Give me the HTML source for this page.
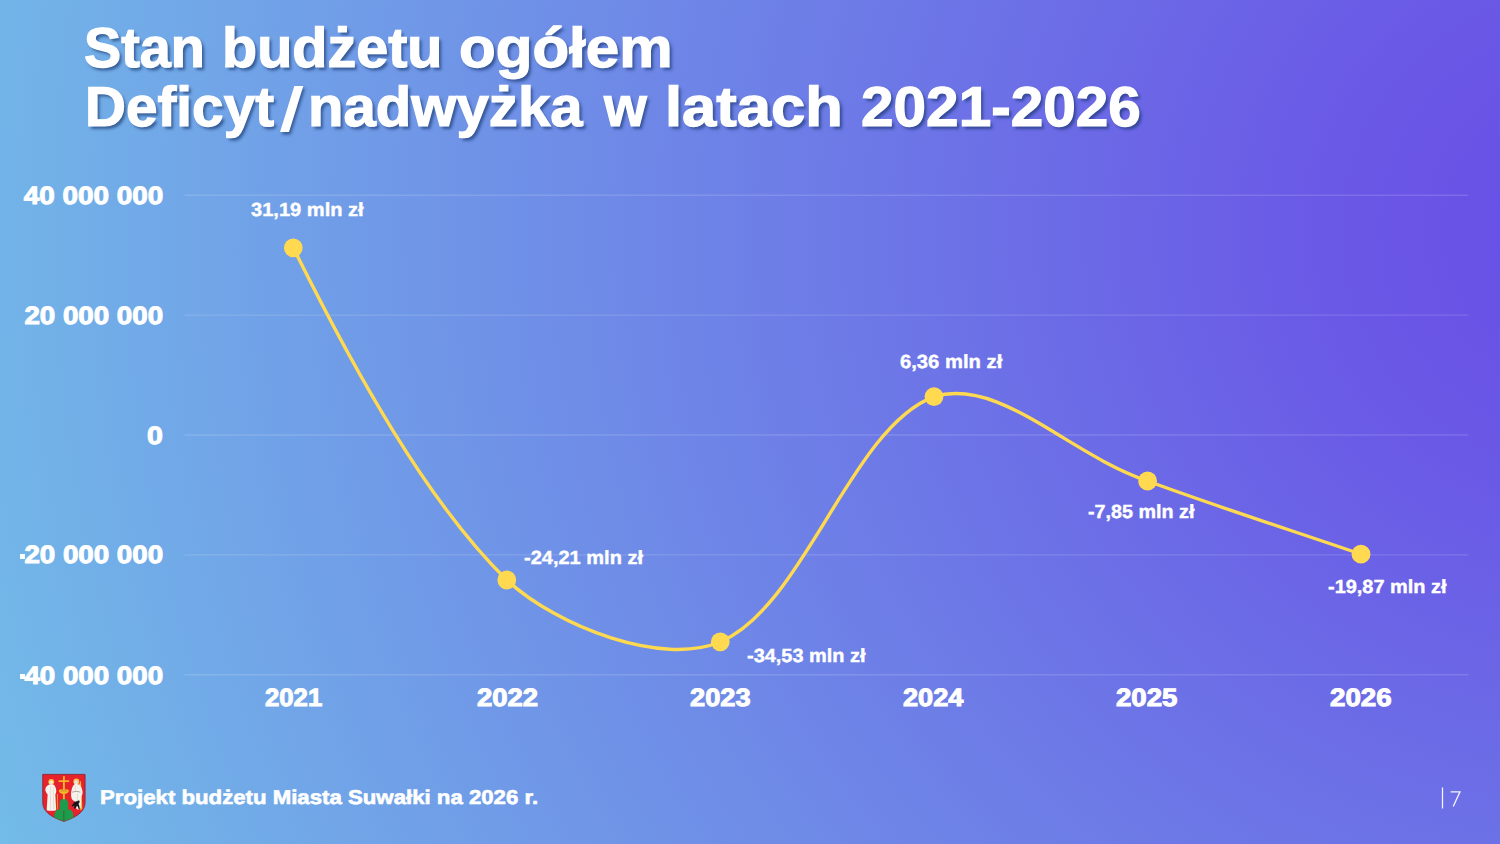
<!DOCTYPE html>
<html lang="pl">
<head>
<meta charset="utf-8">
<title>Stan budżetu ogółem</title>
<style>
html,body{margin:0;padding:0;}
body{width:1500px;height:844px;overflow:hidden;position:relative;
  font-family:"Liberation Sans",sans-serif;font-weight:bold;color:#fff;
  background:radial-gradient(circle at 1583px 231px, rgb(104,78,230) 0px, rgb(106,88,230) 250px, rgb(115,189,232) 1725px);}
.t{position:absolute;white-space:nowrap;line-height:1;text-rendering:geometricPrecision;transform-origin:0 0;margin:0;padding:0;}
.title{font-size:56.2px;text-shadow:2.6px 2.6px 3px rgba(20,50,105,.62);-webkit-text-stroke:1.2px #fff;}
.ax{font-size:25px;-webkit-text-stroke:1px #fff;}
.ay{font-size:25px;-webkit-text-stroke:1px #fff;transform-origin:100% 0;}
.dl{font-size:19px;-webkit-text-stroke:0.4px #fff;}
.ft{font-size:20px;-webkit-text-stroke:0.6px #fff;}
.hy{position:absolute;background:#fff;width:4.6px;height:5.2px;left:20.4px;}
svg{position:absolute;left:0;top:0;}
</style>
</head>
<body>
<svg width="1500" height="844" viewBox="0 0 1500 844">
  <g stroke="#ffffff" stroke-opacity=".14" stroke-width="1.4">
    <line x1="184.7" x2="1468.4" y1="195.2" y2="195.2"/>
    <line x1="184.7" x2="1468.4" y1="315.1" y2="315.1"/>
    <line x1="184.7" x2="1468.4" y1="435.0" y2="435.0"/>
    <line x1="184.7" x2="1468.4" y1="554.9" y2="554.9"/>
    <line x1="184.7" x2="1468.4" y1="674.8" y2="674.8"/>
  </g>
  <path d="M293.3 247.8 C354.1 370.2 427.4 502.6 506.8 580.0 C558.1 627.3 662.5 666.6 720.3 641.8 C804.9 605.5 850.5 428.0 934.0 396.6 C1000.8 377.2 1067.2 453.7 1147.6 481.0 C1218.1 507.0 1289.9 529.8 1361.0 554.2" fill="none" stroke="#ffd950" stroke-width="3.4" stroke-linecap="round" stroke-linejoin="round"/>
  <g fill="#ffd950">
    <circle cx="293.3" cy="247.8" r="9.4"/>
    <circle cx="506.8" cy="580.0" r="9.4"/>
    <circle cx="720.3" cy="641.8" r="9.4"/>
    <circle cx="934.0" cy="396.6" r="9.4"/>
    <circle cx="1147.6" cy="481.0" r="9.4"/>
    <circle cx="1361.0" cy="554.2" r="9.4"/>
  </g>
  <g transform="translate(42.75 774.4)">
    <path d="M0 0 H42.3 V27.5 C42.3 36.2 36.4 41.6 21.15 47 C5.9 41.6 0 36.2 0 27.5 Z" fill="#e8222b" stroke="#8e2430" stroke-width="0.9" stroke-linejoin="round"/>
    <!-- green triple hill -->
    <g fill="#1f9b4c">
      <path d="M16.8 37 V29.5 C16.8 25.6 18.6 24.6 21.1 24.6 C23.6 24.6 25.4 25.6 25.4 29.5 V37 Z"/>
      <path d="M11.6 43.1 C11.2 37.8 13.4 35.2 16.6 35.2 C19.4 35.2 21.1 36.6 21.1 39 V46.6 C18.6 45.9 15.6 45 11.6 43.1 Z"/>
      <path d="M30.6 43.1 C31 37.8 28.8 35.2 25.6 35.2 C22.8 35.2 21.1 36.6 21.1 39 V46.6 C23.6 45.9 26.6 45 30.6 43.1 Z"/>
    </g>
    <path d="M21.1 36.5 V46.3" stroke="#0f5a2a" stroke-width="0.5" fill="none"/>
    <!-- golden cross -->
    <g fill="#f4b62c">
      <rect x="20.2" y="1.8" width="1.9" height="23"/>
      <rect x="15.8" y="5.9" width="10.6" height="1.7"/>
      <path d="M16 16.2 C17.5 14.6 19.3 14.6 21.1 15.6 C22.9 14.6 24.7 14.6 26.2 16.2 C26 18.6 24 19.6 21.1 19.6 C18.2 19.6 16.2 18.6 16 16.2 Z"/>
    </g>
    <path d="M17.6 16.8 C19 16 20.2 16.2 21.1 16.9 C22 16.2 23.2 16 24.6 16.8" stroke="#9a6a12" stroke-width="0.5" fill="none"/>
    <!-- left saint -->
    <circle cx="8.5" cy="7.4" r="2.9" fill="#f6c64a"/>
    <circle cx="8.5" cy="7.9" r="1.9" fill="#fbe9c8"/>
    <path d="M6.6 10.2 C7.6 9.6 9.6 9.6 10.6 10.2 C12.4 11.2 13.3 13.8 13.5 16.6 C13.6 18.2 12.9 19.4 12.6 20 L13.4 35.8 C11 36.6 6.4 36.6 3.9 35.8 L4.9 20 C3.6 18.6 2.4 16.6 2.6 14.8 C2.9 12.4 4.6 11 6.6 10.2 Z" fill="#f7f4ee"/>
    <path d="M8 12 L7.6 35.5 M10.4 13 L11 35" stroke="#cfc8bc" stroke-width="0.5" fill="none"/>
    <path d="M14.7 19.6 V34.8" stroke="#f0a830" stroke-width="0.8" fill="none"/>
    <!-- right saint -->
    <circle cx="33.6" cy="7" r="3" fill="#f6c64a"/>
    <circle cx="33.4" cy="7.8" r="2" fill="#e9e2d6"/>
    <path d="M38.2 6 L39.6 34.6 L37.6 36 L36.2 10 Z" fill="#f2b840"/>
    <path d="M31.4 10 C32.6 9.4 35 9.4 36.2 10.2 C38.2 11.4 39.4 14.4 39.8 17.4 C40 19.4 39.2 21 38.6 22 L38 33 C36.6 35 35 35.6 33.6 34.4 L32.2 27 C30.2 26.4 28.6 24.6 28.4 22 C28.2 19 28.4 13.2 31.4 10 Z" fill="#f5f2ec"/>
    <path d="M29.4 17.8 C32 16.8 35 16.8 37.6 17.8" stroke="#8b8478" stroke-width="0.7" fill="none"/>
    <path d="M33 11.5 C32.4 13.5 32.4 15.5 33.2 17 M34.6 19 L35 32" stroke="#cfc8bc" stroke-width="0.5" fill="none"/>
    <!-- black dog -->
    <path d="M30.4 29.6 C31.2 27.6 32.8 26.8 34.4 27 C35 26 36.2 25.8 36.8 26.6 C37 28 36.4 29 35.6 29.4 C36.4 30.6 37 32.6 37 34.8 L35.8 34.6 C35.6 33.2 35 32 34.2 31.4 C33.8 32.6 33 33.6 32 34.4 L31 33.8 C31.6 32.8 31.8 31.8 31.6 31 C30.8 31.2 30 31.6 29.4 32.4 L28.8 31.4 C29.2 30.6 29.8 30 30.4 29.6 Z" fill="#15151a"/>
  </g>
</svg>

<div class="t title" id="w1" style="left:84.0px;top:20px;transform:scaleX(0.9932);">Stan</div>
<div class="t title" id="w2" style="left:221.9px;top:20px;transform:scaleX(1.0239);">budżetu</div>
<div class="t title" id="w3" style="left:458.6px;top:20px;transform:scaleX(1.0694);">ogółem</div>
<div class="t title" id="w4" style="left:84.8px;top:79px;transform:scaleX(1.0092);">Deficyt</div>
<div class="t title" id="w6" style="left:307.6px;top:79px;transform:scaleX(1.0342);">nadwyżka</div>
<div class="t title" id="w7" style="left:604.0px;top:79px;transform:scaleX(0.9783);">w</div>
<div class="t title" id="w8" style="left:664.8px;top:79px;transform:scaleX(1.0955);">latach</div>
<div class="t title" id="w9" style="left:861.0px;top:79px;transform:scaleX(1.0414);">2021-2026</div>
<div id="w5" style="position:absolute;left:279.9px;top:85.8px;width:9.4px;height:46px;background:#fff;transform-origin:0 100%;transform:skewX(-17.3deg);box-shadow:2.6px 2.6px 3px rgba(20,50,105,.62);"></div>
<div class="t ay" id="y1" style="right:1336.9px;top:184px;transform:scaleX(1.1136);">40 000 000</div>
<div class="t ay" id="y2" style="right:1336.9px;top:304px;transform:scaleX(1.1088);">20 000 000</div>
<div class="t ay" id="y3" style="right:1336.9px;top:424px;transform:scaleX(1.1400);">0</div>
<div class="t ay" id="y4" style="right:1336.9px;top:543px;transform:scaleX(1.1088);">20 000 000</div>
<div class="t ay" id="y5" style="right:1336.9px;top:664px;transform:scaleX(1.1088);">40 000 000</div>
<div class="hy" style="top:553.7px;"></div>
<div class="hy" style="top:673.7px;"></div>
<div class="t ax" id="x1" style="left:264.5px;top:686px;transform:scaleX(1.0286);">2021</div>
<div class="t ax" id="x2" style="left:476.9px;top:686px;transform:scaleX(1.0982);">2022</div>
<div class="t ax" id="x3" style="left:689.8px;top:686px;transform:scaleX(1.0893);">2023</div>
<div class="t ax" id="x4" style="left:902.9px;top:686px;transform:scaleX(1.0857);">2024</div>
<div class="t ax" id="x5" style="left:1116.4px;top:686px;transform:scaleX(1.1055);">2025</div>
<div class="t ax" id="x6" style="left:1329.7px;top:686px;transform:scaleX(1.1091);">2026</div>
<div class="t dl" id="d1" style="left:251.0px;top:201px;transform:scaleX(1.0561);">31,19 mln zł</div>
<div class="t dl" id="d2" style="left:523.9px;top:549px;transform:scaleX(1.0531);">-24,21 mln zł</div>
<div class="t dl" id="d3" style="left:746.9px;top:647px;transform:scaleX(1.0487);">-34,53 mln zł</div>
<div class="t dl" id="d4" style="left:900.0px;top:353px;transform:scaleX(1.0646);">6,36 mln zł</div>
<div class="t dl" id="d5" style="left:1088.0px;top:503px;transform:scaleX(1.0388);">-7,85 mln zł</div>
<div class="t dl" id="d6" style="left:1327.5px;top:578px;transform:scaleX(1.0496);">-19,87 mln zł</div>
<div class="t ft" id="f1" style="left:100.0px;top:788px;transform:scaleX(1.1102);">Projekt budżetu Miasta Suwałki na 2026 r.</div>
<svg id="pg" width="30" height="30" viewBox="0 0 30 30" style="left:1435px;top:782px;">
  <path d="M7.5 5.5 V26.5" stroke="#fff" stroke-opacity=".92" stroke-width="1.3" fill="none"/>
  <path d="M15.6 9.8 H25 L18.2 24.6" stroke="#fff" stroke-opacity=".92" stroke-width="1.3" fill="none" stroke-linejoin="miter"/>
</svg>
</body>
</html>
